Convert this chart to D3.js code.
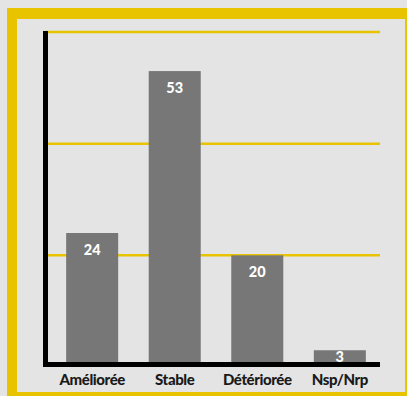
<!DOCTYPE html>
<html>
<head>
<meta charset="utf-8">
<script src="https://cdn.jsdelivr.net/npm/d3@7"></script>
<style>
  body { margin: 0; background: #e4e4e4; }
  svg { display: block; }
</style>
</head>
<body>
<svg id="chart" width="407" height="396"></svg>
<script>
var categories = ["Améliorée", "Stable", "Détériorée", "Nsp/Nrp"];
var values = [24, 53, 20, 3];
var gridTicks = [20, 40, 60];

var svg = d3.select("#chart");

// frame: yellow border, partly cut by the window edge
svg.append("rect")
    .attr("x", 7).attr("y", 8)
    .attr("width", 400).attr("height", 388)
    .style("fill", "#e8c400");
svg.append("rect")
    .attr("x", 17).attr("y", 19)
    .attr("width", 388).attr("height", 373)
    .style("fill", "#e4e4e4");

var x = d3.scaleBand()
    .domain(categories)
    .range([48, 384])
    .paddingInner(0.37)
    .paddingOuter(0.22);

var y = d3.scaleLinear()
    .domain([0, 60])
    .range([367, 32]);

// gridlines
svg.selectAll("line.grid")
    .data(gridTicks)
  .enter().append("line")
    .attr("class", "grid")
    .attr("x1", 45).attr("x2", 380)
    .attr("y1", function(d) { return y(d); })
    .attr("y2", function(d) { return y(d); })
    .style("stroke", "#e8c400")
    .style("stroke-width", 2.5);

// bars
svg.selectAll("rect.bar")
    .data(values)
  .enter().append("rect")
    .attr("class", "bar")
    .attr("x", function(d, i) { return x(categories[i]); })
    .attr("y", function(d) { return y(d); })
    .attr("width", x.bandwidth())
    .attr("height", function(d) { return y(0) - y(d); })
    .style("fill", "#777777");

// axes (black L)
svg.append("line")
    .attr("x1", 45.5).attr("x2", 45.5)
    .attr("y1", 31).attr("y2", 367)
    .style("stroke", "#000").style("stroke-width", 5);
svg.append("line")
    .attr("x1", 43).attr("x2", 380)
    .attr("y1", 364.5).attr("y2", 364.5)
    .style("stroke", "#000").style("stroke-width", 5);

// value labels
svg.selectAll("text.val")
    .data(values)
  .enter().append("text")
    .attr("class", "val")
    .attr("x", function(d, i) { return x(categories[i]) + x.bandwidth() / 2; })
    .attr("y", function(d) {
      var h = y(0) - y(d);
      return h < 30 ? y(d) + 11.5 : y(d) + 21.5;
    })
    .attr("text-anchor", "middle")
    .style("font-family", "Lato, 'Open Sans', sans-serif")
    .style("font-weight", "900")
    .style("font-size", "14.5px")
    .style("fill", "#ffffff")
    .text(function(d) { return d; });

// category labels
var xAxis = d3.axisBottom(x).tickSize(0).tickPadding(0);
var gx = svg.append("g")
    .attr("transform", "translate(0,385)")
    .call(xAxis);
gx.select(".domain").remove();
gx.selectAll("text")
    .attr("y", 0)
    .attr("dy", 0)
    .style("font-family", "Lato, 'Open Sans', sans-serif")
    .style("font-weight", "900")
    .style("font-size", "15px")
    .style("letter-spacing", "-0.4px")
    .style("fill", "#1a1a1a");
</script>
</body>
</html>
